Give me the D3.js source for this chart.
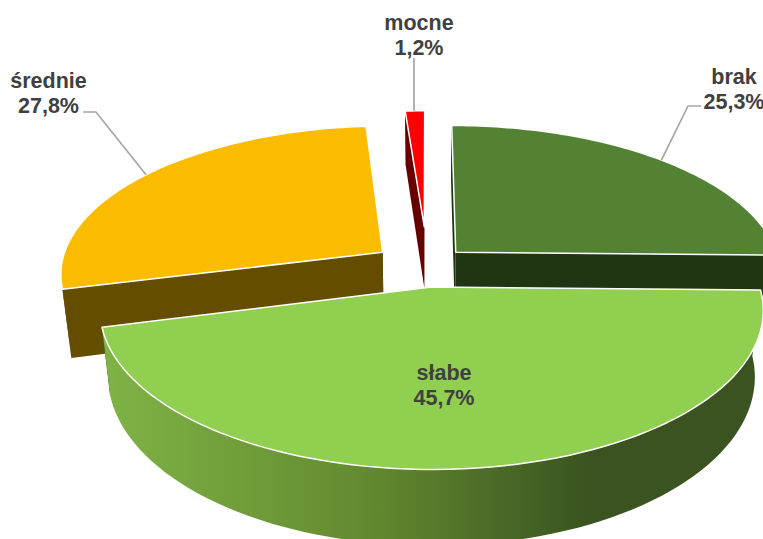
<!DOCTYPE html>
<html>
<head>
<meta charset="utf-8">
<script src="https://cdnjs.cloudflare.com/ajax/libs/d3/7.8.5/d3.min.js"></script>
<style>
  html, body { margin: 0; padding: 0; background: #fff; }
  svg { display: block; overflow: hidden; }
  text { font-family: "Liberation Sans", Arial, sans-serif; font-weight: bold; font-size: 21.5px; fill: #404040; text-anchor: middle; }
</style>
</head>
<body>
<div id="chart"></div>
<script>
const categories = ["brak", "słabe", "średnie", "mocne"];
const values = [25.3, 45.7, 27.8, 1.2];
const valueLabels = ["25,3%", "45,7%", "27,8%", "1,2%"];
const explosion = [0.143, 0.143, 0.143, 0.27];
const topColors = ["#548235", "#90cf50", "#fbbc00", "#ff0000"];
const sideColors = ["#203612", "url(#rimSlabe)", "#644c00", "#660000"];
const radialColors = ["#203612", "#203612", "#644c00", "#660000"];

const width = 763;
const height = 539;

// pie plane -> screen, rough perspective fitted by eye
const cx = 423, cy = 265.5, rx = 325, ry = 148.5, depth = 64, persp = 0.14, shrink = 0.025;
// small per slice corrections, the original is not a clean projection
const radiusFactor = [1, 1.01, 0.99, 0.95];
const widthFactor = [1, 0.98, 1, 0.98];
const depthFactor = [1, 1, 1.05, 1];
const nudgeX = [0, 3, -3, 4.5];
const nudgeY = [1.5, 0, -1, 0];

const svg = d3.select("#chart")
  .append("svg")
  .attr("width", width)
  .attr("height", height);

const grad = svg.append("defs").append("linearGradient")
  .attr("id", "rimSlabe")
  .attr("gradientUnits", "userSpaceOnUse")
  .attr("x1", 105).attr("x2", 590)
  .attr("y1", 0).attr("y2", 0);
grad.append("stop").attr("offset", 0).attr("stop-color", "#7fb346");
grad.append("stop").attr("offset", 0.55).attr("stop-color", "#62892f");
grad.append("stop").attr("offset", 1).attr("stop-color", "#3a5320");

function project(u, v, z, i) {
  const s = 1 / (1 - persp * v);
  const k = 1 - shrink * z;
  return [
    cx + nudgeX[i] + rx * u * s * k,
    cy + nudgeY[i] + ry * v * s + depth * depthFactor[i] * z * s
  ];
}

const pie = d3.pie().sort(null).value(d => d)(values);
const line = d3.line();
const closed = pts => line(pts) + "Z";

function apex(d) {
  const mid = (d.startAngle + d.endAngle) / 2;
  const e = explosion[d.index];
  return [e * Math.sin(mid), -e * Math.cos(mid)];
}

function rimPoint(d, a, z) {
  const o = apex(d);
  const r = radiusFactor[d.index];
  return project(o[0] + r * widthFactor[d.index] * Math.sin(a), o[1] - r * Math.cos(a), z, d.index);
}

function rimPoints(d, z) {
  return d3.range(81).map(i => rimPoint(d, d.startAngle + (d.endAngle - d.startAngle) * i / 80, z));
}

// back slices first so the front one covers them
[3, 0, 2, 1].forEach(i => {
  const d = pie[i];
  const o = apex(d);
  const g = svg.append("g");

  [d.startAngle, d.endAngle].forEach(a => {
    g.append("path")
      .attr("d", closed([project(o[0], o[1], 0, i), rimPoint(d, a, 0), rimPoint(d, a, 1), project(o[0], o[1], 1, i)]))
      .attr("fill", radialColors[i]);
  });

  g.append("path")
    .attr("d", closed(rimPoints(d, 0).concat(rimPoints(d, 1).reverse())))
    .attr("fill", sideColors[i]);

  g.append("path")
    .attr("d", closed([project(o[0], o[1], 0, i)].concat(rimPoints(d, 0))))
    .attr("fill", topColors[i])
    .attr("stroke", "#fff")
    .attr("stroke-width", 1.5)
    .attr("stroke-linejoin", "round");
});

// label layout: line centre x, first baseline, leader start, elbow
const labelX = [734, 444, 48.5, 419];
const labelY = [84, 380, 88, 30];
const leaderStart = [[701, 106], null, [83, 112], [414, 58]];
const leaderElbow = [[688, 106], null, [96, 112], null];

pie.forEach((d, i) => {
  if (leaderStart[i]) {
    const mid = (d.startAngle + d.endAngle) / 2;
    const pts = [leaderStart[i]];
    if (leaderElbow[i]) pts.push(leaderElbow[i]);
    const end = rimPoint(d, mid, 0);
    pts.push(leaderElbow[i] ? end : [leaderStart[i][0], end[1]]);
    svg.append("path")
      .attr("d", line(pts))
      .attr("fill", "none")
      .attr("stroke", "#a6a6a6")
      .attr("stroke-width", 1.7);
  }
  const t = svg.append("text").attr("x", labelX[i]).attr("y", labelY[i]);
  t.append("tspan").attr("x", labelX[i]).text(categories[i]);
  t.append("tspan").attr("x", labelX[i]).attr("dy", 25).text(valueLabels[i]);
});
</script>
</body>
</html>
